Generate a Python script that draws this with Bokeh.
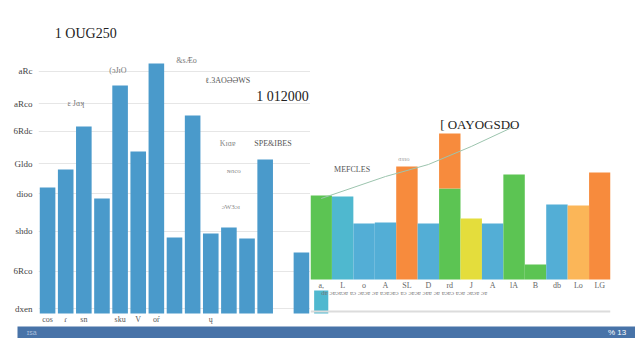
from bokeh.plotting import figure
from bokeh.models import FactorRange, Range1d, Label, Span, FixedTicker
from bokeh.layouts import column, row
from bokeh.embed import file_html
from bokeh.resources import INLINE
from bokeh.core.properties import value

# ---------------- data ----------------
left_cats = [f"L{i}" for i in range(1, 16)]
left_vals = [50.4, 57.6, 74.8, 46.0, 91.2, 64.8, 100.0, 30.4, 79.2, 32.0, 34.4, 30.0, 61.6, 0.0, 24.4]
left_tick_labels = ["cos", "ɾ", "sn", "", "sku", "V", "oŕ", "", "", "ų", "", "", "", "", ""]
left_y_ticks = [2, 17, 33, 48, 60, 73, 84, 97]
left_y_labels = ["dxen", "6Rco", "shdo", "dioo", "Gldo", "6Rdc", "aRco", "aRc"]

right_cats = [f"R{i}" for i in range(1, 15)]
right_main = [33.6, 33.2, 22.4, 22.8, 45.2, 22.4, 36.4, 24.4, 22.4, 42.0, 6.0, 30.0, 29.6, 42.8]
right_stack = [0, 0, 0, 0, 0, 0, 22.0, 0, 0, 0, 0, 0, 0, 0]
right_kind = ["g", "t", "b", "b", "o", "b", "g", "y", "b", "g", "g", "b", "lo", "o"]
right_tick_labels = ["a,", "L", "o", "A", "SL", "D", "rd", "J", "A", "lA", "B", "db", "Lo", "LG"]
right_small = 9.2
trend_cats = ["R1", "R4", "R6", "R8", "R10"]
trend_vals = [32.4, 41.2, 46.0, 53.2, 61.2]

# ---------------- styles ----------------
BLUE_L = "#4a9acb"
PALETTE = {"g": "#5cc453", "t": "#4fb8cf", "b": "#53aed6", "o": "#f78b3d",
           "y": "#e4dd3c", "lo": "#fbb658"}
BAND = "#4873a8"
BASE = 13.6
SERIF = "Liberation Serif"
YR = (-5.2, 116)

# ---------------- left panel ----------------
p1 = figure(x_range=FactorRange(*left_cats, range_padding=0), y_range=Range1d(*YR),
            width=310, height=326, min_border_left=38, min_border_right=0,
            min_border_top=23, min_border_bottom=0,
            output_backend="svg", toolbar_location=None)
p1.vbar(x=left_cats, top=left_vals, width=0.86, color=BLUE_L, line_color=None)
p1.outline_line_color = None
p1.xaxis.visible = False
p1.xgrid.grid_line_color = None
p1.ygrid.ticker = FixedTicker(ticks=left_y_ticks)
p1.ygrid.grid_line_color = "#e6e6e6"
p1.yaxis.ticker = FixedTicker(ticks=left_y_ticks)
p1.yaxis.major_label_overrides = dict(zip(left_y_ticks, left_y_labels))
p1.yaxis.major_label_text_font_size = "9px"
p1.yaxis.major_label_text_color = "#444444"
p1.yaxis.major_label_text_font = SERIF
p1.yaxis.axis_line_color = None
p1.yaxis.major_tick_line_color = None
p1.yaxis.minor_tick_line_color = None
p1.yaxis.major_label_standoff = 0
p1.text(x=left_cats, y=-2.4, text=left_tick_labels, text_font_size="8px",
        text_color="#555555", text_align="center", text_baseline="middle",
        text_font=value(SERIF))

for txt, x, y, size, col, align in [
    ("1 OUG250", 0.9, 112, "14px", "#222222", "left"),
    ("1 012000", 14.9, 86.8, "14px", "#222222", "right"),
    ("&sÆo", 7.6, 101.2, "8px", "#777777", "left"),
    ("(ɔJɪO", 3.9, 97.2, "8px", "#777777", "left"),
    ("ɛ Jɑʞ", 1.6, 84.0, "8px", "#777777", "left"),
    ("ℓ.3AOƏƏWS", 9.2, 93.2, "8px", "#555555", "left"),
    ("Kɪɑɐ", 10.0, 68.0, "8px", "#888888", "left"),
    ("SPE&IBES", 11.9, 68.0, "8px", "#555555", "left"),
    ("ɴɑco", 10.4, 57.2, "7px", "#888888", "left"),
    ("ɔW3ɔɪ", 10.1, 42.8, "7px", "#888888", "left"),
]:
    p1.add_layout(Label(x=x, y=y, text=txt, text_font_size=size, text_color=col,
                        text_font=SERIF, text_align=align, text_baseline="middle"))

# ---------------- right panel ----------------
p2 = figure(x_range=FactorRange(*right_cats, range_padding=0), y_range=Range1d(*YR),
            width=322, height=326, min_border_left=0, min_border_right=22,
            min_border_top=23, min_border_bottom=0,
            output_backend="svg", toolbar_location=None)
p2.outline_line_color = None
p2.grid.grid_line_color = None
p2.xaxis.visible = False
p2.yaxis.visible = False

colors = [PALETTE[k] for k in right_kind]
tops = [BASE + v for v in right_main]
p2.vbar(x=right_cats, bottom=BASE, top=tops, width=1.0, color=colors, line_color=None)
stack_tops = [t + s for t, s in zip(tops, right_stack)]
p2.vbar(x=right_cats, bottom=tops, top=stack_tops, width=1.0,
        color=PALETTE["o"], line_color=None,
        fill_alpha=[1 if s > 0 else 0 for s in right_stack])
p2.vbar(x=["R1"], bottom=0, top=[right_small], width=0.66, color=PALETTE["t"], line_color=None)
p2.line(x=trend_cats, y=[BASE + v for v in trend_vals], line_color="#9cc4ae", line_width=1)
p2.add_layout(Span(location=0.8, dimension="width", line_color="#dcdcdc", line_width=2))
p2.text(x=right_cats, y=BASE - 2.2, text=right_tick_labels, text_font_size="8px",
        text_color="#666666", text_align="center", text_baseline="middle",
        text_font=value(SERIF))
p2.add_layout(Label(x=0.5, y=BASE - 5.4,
                    text="dɐ ɔɐɔɐɔɐ ɐɔ ɔɐɔɐ ɔɐ ɐɔɐɔɐɔ ɐɔ ɔɐɔɐ ɔɐɐ ɔɐ ɐɔɐɔ ɐɔɐ ɔɐɔɐ ɔɐ",
                    text_font_size="7px", text_color="#777777", text_font=SERIF,
                    text_baseline="middle"))
for txt, x, y, size, col in [
    ("[ OAYOGSDO", 6.05, 75.6, "13px", "#222222"),
    ("MEFCLES", 1.1, 57.6, "8px", "#555555"),
    ("ɑɜɜo", 4.1, 62.0, "6px", "#999999"),
]:
    p2.add_layout(Label(x=x, y=y, text=txt, text_font_size=size, text_color=col,
                        text_font=SERIF, text_baseline="middle"))

# ---------------- bottom band ----------------
p3 = figure(x_range=Range1d(0, 1), y_range=Range1d(0, 1), width=635, height=12,
            min_border_left=17, min_border_right=0, min_border_top=0, min_border_bottom=0,
            output_backend="svg", toolbar_location=None)
p3.axis.visible = False
p3.grid.grid_line_color = None
p3.outline_line_color = None
p3.background_fill_color = BAND
p3.add_layout(Label(x=0.015, y=0.5, text="ɪsa", text_font_size="7px", text_color="#a8bedb",
                    text_baseline="middle"))
p3.add_layout(Label(x=0.985, y=0.5, text="% 13", text_font_size="8px", text_color="#ffffff",
                    text_align="right", text_baseline="middle"))

layout = column(row(p1, p2), p3)
open("out.html", "w").write(file_html(layout, INLINE))
